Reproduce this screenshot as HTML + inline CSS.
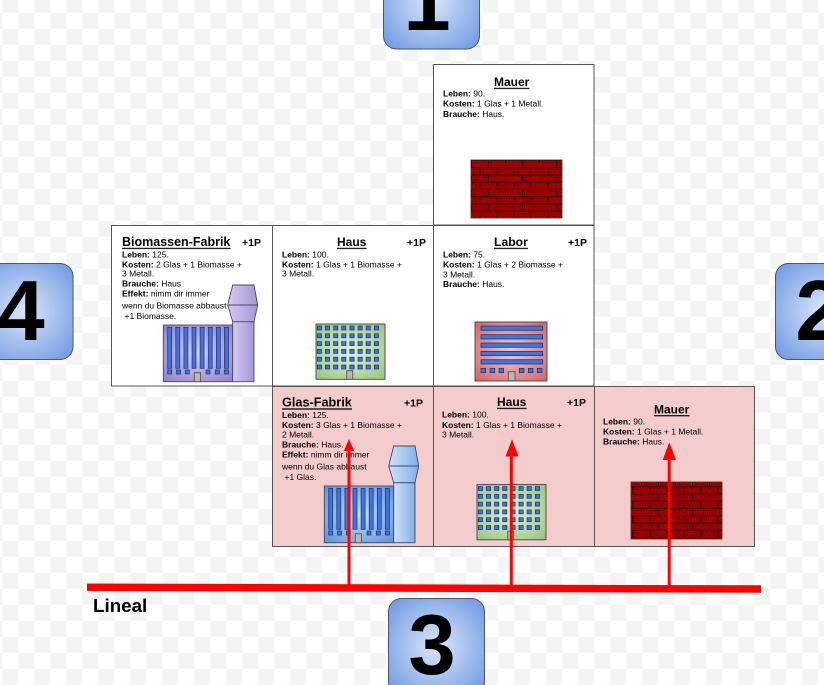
<!DOCTYPE html>
<html><head><meta charset="utf-8"><style>
html,body{margin:0;padding:0;background:#fff;}
svg{display:block;}
text{font-family:"Liberation Sans",Arial,sans-serif;}
</style></head><body>
<svg width="824" height="685" viewBox="0 0 824 685" xmlns="http://www.w3.org/2000/svg">
<defs>
<pattern id="chk" x="2.3" y="-3.3" width="32" height="32" patternUnits="userSpaceOnUse">
<rect width="32" height="32" fill="#ffffff"/>
<rect width="16" height="16" fill="#f4f4f4"/>
<rect x="16" y="16" width="16" height="16" fill="#f4f4f4"/>
</pattern>
<pattern id="brk" x="471" y="160" width="17" height="14.5" patternUnits="userSpaceOnUse">
<rect width="17" height="14.5" fill="#990000"/>
<path d="M0 0.4H17M0 7.65H17M0.5 0V7.25M9 7.25V14.5" stroke="#2a0000" stroke-width="0.9" fill="none"/>
</pattern>
<radialGradient id="gTile" cx="50%" cy="50%" r="65%">
<stop offset="0" stop-color="#dbe7fb"/><stop offset="1" stop-color="#739ce2"/>
</radialGradient>
<radialGradient id="gPur" cx="50%" cy="50%" r="70%">
<stop offset="0" stop-color="#d8d1f1"/><stop offset="1" stop-color="#8f80ca"/>
</radialGradient>
<linearGradient id="gPurT" x1="0" y1="0" x2="1" y2="0">
<stop offset="0" stop-color="#d3caef"/><stop offset="1" stop-color="#a596d8"/>
</linearGradient>
<radialGradient id="gBlu" cx="50%" cy="50%" r="70%">
<stop offset="0" stop-color="#c9def7"/><stop offset="1" stop-color="#5f92d6"/>
</radialGradient>
<linearGradient id="gBluT" x1="0" y1="0" x2="1" y2="0">
<stop offset="0" stop-color="#cfe2f8"/><stop offset="1" stop-color="#84afe6"/>
</linearGradient>
<radialGradient id="gGrn" cx="50%" cy="50%" r="70%">
<stop offset="0" stop-color="#e4f2d6"/><stop offset="1" stop-color="#98c47e"/>
</radialGradient>
<radialGradient id="gRed" cx="50%" cy="50%" r="70%">
<stop offset="0" stop-color="#f6c8c8"/><stop offset="1" stop-color="#d46464"/>
</radialGradient>
</defs>

<rect width="824" height="685" fill="url(#chk)"/>

<!-- cards -->
<g stroke="#555" stroke-width="1">
<rect x="433.5" y="64.5" width="160.5" height="160.5" fill="#fff"/>
<rect x="111.5" y="225.5" width="161" height="160.5" fill="#fff"/>
<rect x="272.5" y="225.5" width="161" height="160.5" fill="#fff"/>
<rect x="433.5" y="225.5" width="160.5" height="160.5" fill="#fff"/>
<rect x="272.5" y="386.5" width="161" height="160" fill="#f4cccc"/>
<rect x="433.5" y="386.5" width="161" height="160" fill="#f4cccc"/>
<rect x="594.5" y="386.5" width="160" height="160" fill="#f4cccc"/>
</g>

<!-- titles -->
<g font-weight="bold" fill="#000">
<text x="494" y="86" font-size="12">Mauer</text>
<text x="122" y="246" font-size="12.5">Biomassen-Fabrik</text>
<text x="337" y="246" font-size="12">Haus</text>
<text x="494" y="246" font-size="12.2">Labor</text>
<text x="282" y="406.7" font-size="12.7">Glas-Fabrik</text>
<text x="497" y="406" font-size="12">Haus</text>
<text x="654" y="413.3" font-size="12">Mauer</text>
<text x="242" y="246" font-size="10.5">+1P</text>
<text x="407" y="246" font-size="10.5">+1P</text>
<text x="568" y="246" font-size="10.5">+1P</text>
<text x="404" y="406.5" font-size="10.5">+1P</text>
<text x="567" y="406" font-size="10.5">+1P</text>
</g>
<g stroke="#222" stroke-width="1.4">
<line x1="494" y1="88.4" x2="529.5" y2="88.4"/>
<line x1="122" y1="248.4" x2="230.5" y2="248.4"/>
<line x1="337" y1="248.4" x2="366.5" y2="248.4"/>
<line x1="494" y1="248.4" x2="528" y2="248.4"/>
<line x1="282" y1="409" x2="352" y2="409"/>
<line x1="497" y1="408.4" x2="526.5" y2="408.4"/>
<line x1="654" y1="415.7" x2="689.5" y2="415.7"/>
</g>

<!-- body text -->
<g font-size="8.5" fill="#000">
<text x="443" y="96.7"><tspan font-weight="bold">Leben:</tspan> 90.</text>
<text x="443" y="106.6"><tspan font-weight="bold">Kosten:</tspan> 1 Glas + 1 Metall.</text>
<text x="443" y="116.8"><tspan font-weight="bold">Brauche:</tspan> Haus.</text>

<text x="122" y="257.5"><tspan font-weight="bold">Leben:</tspan> 125.</text>
<text x="122" y="267.3"><tspan font-weight="bold">Kosten:</tspan> 2 Glas + 1 Biomasse +</text>
<text x="122" y="276.7">3 Metall.</text>
<text x="122" y="286.3"><tspan font-weight="bold">Brauche:</tspan> Haus</text>
<text x="122" y="296.7"><tspan font-weight="bold">Effekt:</tspan> nimm dir immer</text>
<text x="122" y="308.3">wenn du Biomasse abbaust</text>
<text x="124.5" y="319">+1 Biomasse.</text>

<text x="282" y="257.5"><tspan font-weight="bold">Leben:</tspan> 100.</text>
<text x="282" y="267.3"><tspan font-weight="bold">Kosten:</tspan> 1 Glas + 1 Biomasse +</text>
<text x="282" y="276.7">3 Metall.</text>

<text x="443" y="257.3"><tspan font-weight="bold">Leben:</tspan> 75.</text>
<text x="443" y="267.5"><tspan font-weight="bold">Kosten:</tspan> 1 Glas + 2 Biomasse +</text>
<text x="443" y="277.3">3 Metall.</text>
<text x="443" y="287"><tspan font-weight="bold">Brauche:</tspan> Haus.</text>

<text x="282" y="418"><tspan font-weight="bold">Leben:</tspan> 125.</text>
<text x="282" y="428"><tspan font-weight="bold">Kosten:</tspan> 3 Glas + 1 Biomasse +</text>
<text x="282" y="437.7">2 Metall.</text>
<text x="282" y="447.5"><tspan font-weight="bold">Brauche:</tspan> Haus.</text>
<text x="282" y="457.5"><tspan font-weight="bold">Effekt:</tspan> nimm dir immer</text>
<text x="282" y="469.3">wenn du Glas abbaust</text>
<text x="284.5" y="480">+1 Glas.</text>

<text x="442" y="417.3"><tspan font-weight="bold">Leben:</tspan> 100.</text>
<text x="442" y="428"><tspan font-weight="bold">Kosten:</tspan> 1 Glas + 1 Biomasse +</text>
<text x="442" y="437.7">3 Metall.</text>

<text x="603" y="424.3"><tspan font-weight="bold">Leben:</tspan> 90.</text>
<text x="603" y="434.3"><tspan font-weight="bold">Kosten:</tspan> 1 Glas + 1 Metall.</text>
<text x="603" y="444.7"><tspan font-weight="bold">Brauche:</tspan> Haus.</text>
</g>

<!-- walls -->
<rect x="471" y="160" width="91" height="58" fill="url(#brk)" stroke="#333" stroke-width="0.8"/>
<rect x="631" y="482" width="91" height="57" fill="url(#brk)" stroke="#333" stroke-width="0.8"/>

<!-- Biomassen factory (purple) -->
<g stroke="#4a4a6a" stroke-width="0.9">
<rect x="163.3" y="325" width="69.4" height="56.7" fill="url(#gPur)"/>
<rect x="232.7" y="321.7" width="21.3" height="60" fill="url(#gPurT)"/>
<polygon points="232.7,285 254,285 257.7,305 254,321.7 232.7,321.7 227.7,305" fill="url(#gPurT)"/>
<line x1="227.7" y1="305" x2="257.7" y2="305"/>
<g fill="#3d74dd" stroke="#1b3170" stroke-width="0.7">
<rect x="167.7" y="327.3" width="4" height="41"/>
<rect x="175.8" y="327.3" width="4" height="41"/>
<rect x="183.9" y="327.3" width="4" height="41"/>
<rect x="192" y="327.3" width="4" height="41"/>
<rect x="200.1" y="327.3" width="4" height="41"/>
<rect x="208.2" y="327.3" width="4" height="41"/>
<rect x="216.3" y="327.3" width="4" height="41"/>
<rect x="224.4" y="327.3" width="4" height="41"/>
<rect x="167.7" y="370" width="4" height="4"/>
<rect x="176.5" y="370" width="4" height="4"/>
<rect x="185.3" y="370" width="4" height="4"/>
<rect x="206" y="370" width="4" height="4"/>
<rect x="215.3" y="370" width="4" height="4"/>
<rect x="224.4" y="370" width="4" height="4"/>
</g>
<rect x="194.3" y="372.7" width="6.2" height="9" fill="#b8b8b8" stroke="#555"/>
</g>

<!-- Glas factory (blue) -->
<g transform="translate(161,161)" stroke="#3a4a6a" stroke-width="0.9">
<rect x="163.3" y="325" width="69.4" height="56.7" fill="url(#gBlu)"/>
<rect x="232.7" y="321.7" width="21.3" height="60" fill="url(#gBluT)"/>
<polygon points="232.7,285 254,285 257.7,305 254,321.7 232.7,321.7 227.7,305" fill="url(#gBluT)"/>
<line x1="227.7" y1="305" x2="257.7" y2="305"/>
<g fill="#3d74dd" stroke="#1b3170" stroke-width="0.7">
<rect x="167.7" y="327.3" width="4" height="41"/>
<rect x="175.8" y="327.3" width="4" height="41"/>
<rect x="183.9" y="327.3" width="4" height="41"/>
<rect x="192" y="327.3" width="4" height="41"/>
<rect x="200.1" y="327.3" width="4" height="41"/>
<rect x="208.2" y="327.3" width="4" height="41"/>
<rect x="216.3" y="327.3" width="4" height="41"/>
<rect x="224.4" y="327.3" width="4" height="41"/>
<rect x="167.7" y="370" width="4" height="4"/>
<rect x="176.5" y="370" width="4" height="4"/>
<rect x="185.3" y="370" width="4" height="4"/>
<rect x="206" y="370" width="4" height="4"/>
<rect x="215.3" y="370" width="4" height="4"/>
<rect x="224.4" y="370" width="4" height="4"/>
</g>
<rect x="194.3" y="372.7" width="6.2" height="9" fill="#b8b8b8" stroke="#555"/>
</g>

<!-- Haus buildings (green) -->
<g id="haus" stroke="#444" stroke-width="0.9">
<rect x="316" y="324" width="69" height="55.3" fill="url(#gGrn)"/>
<g fill="#3d74dd" stroke="#1b2f6a" stroke-width="0.7">
<rect x="317.3" y="326" width="4.2" height="4"/><rect x="325.4" y="326" width="4.2" height="4"/><rect x="333.6" y="326" width="4.2" height="4"/><rect x="341.7" y="326" width="4.2" height="4"/><rect x="349.9" y="326" width="4.2" height="4"/><rect x="358" y="326" width="4.2" height="4"/><rect x="366.1" y="326" width="4.2" height="4"/><rect x="374.3" y="326" width="4.2" height="4"/>
<rect x="317.3" y="333.8" width="4.2" height="4"/><rect x="325.4" y="333.8" width="4.2" height="4"/><rect x="333.6" y="333.8" width="4.2" height="4"/><rect x="341.7" y="333.8" width="4.2" height="4"/><rect x="349.9" y="333.8" width="4.2" height="4"/><rect x="358" y="333.8" width="4.2" height="4"/><rect x="366.1" y="333.8" width="4.2" height="4"/><rect x="374.3" y="333.8" width="4.2" height="4"/>
<rect x="317.3" y="341.6" width="4.2" height="4"/><rect x="325.4" y="341.6" width="4.2" height="4"/><rect x="333.6" y="341.6" width="4.2" height="4"/><rect x="341.7" y="341.6" width="4.2" height="4"/><rect x="349.9" y="341.6" width="4.2" height="4"/><rect x="358" y="341.6" width="4.2" height="4"/><rect x="366.1" y="341.6" width="4.2" height="4"/><rect x="374.3" y="341.6" width="4.2" height="4"/>
<rect x="317.3" y="349.4" width="4.2" height="4"/><rect x="325.4" y="349.4" width="4.2" height="4"/><rect x="333.6" y="349.4" width="4.2" height="4"/><rect x="341.7" y="349.4" width="4.2" height="4"/><rect x="349.9" y="349.4" width="4.2" height="4"/><rect x="358" y="349.4" width="4.2" height="4"/><rect x="366.1" y="349.4" width="4.2" height="4"/><rect x="374.3" y="349.4" width="4.2" height="4"/>
<rect x="317.3" y="357.2" width="4.2" height="4"/><rect x="325.4" y="357.2" width="4.2" height="4"/><rect x="333.6" y="357.2" width="4.2" height="4"/><rect x="341.7" y="357.2" width="4.2" height="4"/><rect x="349.9" y="357.2" width="4.2" height="4"/><rect x="358" y="357.2" width="4.2" height="4"/><rect x="366.1" y="357.2" width="4.2" height="4"/><rect x="374.3" y="357.2" width="4.2" height="4"/>
<rect x="317.3" y="365" width="4.2" height="4"/><rect x="325.4" y="365" width="4.2" height="4"/><rect x="333.6" y="365" width="4.2" height="4"/><rect x="341.7" y="365" width="4.2" height="4"/><rect x="349.9" y="365" width="4.2" height="4"/><rect x="358" y="365" width="4.2" height="4"/><rect x="366.1" y="365" width="4.2" height="4"/><rect x="374.3" y="365" width="4.2" height="4"/>
</g>
<rect x="346.7" y="370.7" width="6" height="8.6" fill="#b8b8b8" stroke="#555"/>
</g>
<use href="#haus" transform="translate(161,160.5)"/>

<!-- Labor building -->
<g stroke="#444" stroke-width="0.9">
<rect x="475" y="322" width="72" height="59" fill="url(#gRed)"/>
<g fill="#3d74dd" stroke="#1b2f6a" stroke-width="0.7">
<rect x="481" y="326" width="61.7" height="4.3"/>
<rect x="481" y="334.7" width="61.7" height="4.3"/>
<rect x="481" y="343" width="61.7" height="4.3"/>
<rect x="481" y="351.3" width="61.7" height="4.3"/>
<rect x="481" y="359.7" width="61.7" height="4.3"/>
<rect x="481" y="368.3" width="4.7" height="4.4"/>
<rect x="490" y="368.3" width="4.7" height="4.4"/>
<rect x="499" y="368.3" width="4.7" height="4.4"/>
<rect x="519.3" y="368.3" width="4.7" height="4.4"/>
<rect x="528.3" y="368.3" width="4.7" height="4.4"/>
<rect x="537.3" y="368.3" width="4.7" height="4.4"/>
</g>
<rect x="508.3" y="371.7" width="6.7" height="9" fill="#b8b8b8" stroke="#555"/>
</g>

<!-- number tiles -->
<g stroke="#4b5670" stroke-width="1" fill="url(#gTile)">
<rect x="383.5" y="-47" width="96" height="96" rx="13"/>
<rect x="-23" y="263.5" width="96" height="96" rx="13"/>
<rect x="775.5" y="263.5" width="96" height="96" rx="13"/>
<rect x="388.5" y="598.5" width="96" height="96" rx="13"/>
</g>
<g font-weight="bold" font-size="85" fill="#000" text-anchor="middle">
<text x="427" y="30">1</text>
<text x="21" y="340">4</text>
<text x="819" y="340">2</text>
<text x="432" y="674">3</text>
</g>

<!-- ruler and arrows -->
<polygon points="87,583.5 761,585.3 761,592.8 87,591" fill="#ff0000"/>
<g stroke="#ff0000" stroke-width="3">
<line x1="349" y1="586" x2="349" y2="449"/>
<line x1="511.3" y1="586" x2="511.3" y2="454"/>
<line x1="669.2" y1="586" x2="669.2" y2="458"/>
</g>
<g fill="#ff0000">
<polygon points="349,439 343.8,451 354.2,451"/>
<polygon points="512,439.3 505.5,456.5 518.5,456.5"/>
<polygon points="669.3,442.3 662.7,460 676,460"/>
</g>
<text x="93" y="612" font-size="18.8" font-weight="bold" fill="#000">Lineal</text>
</svg>
</body></html>
